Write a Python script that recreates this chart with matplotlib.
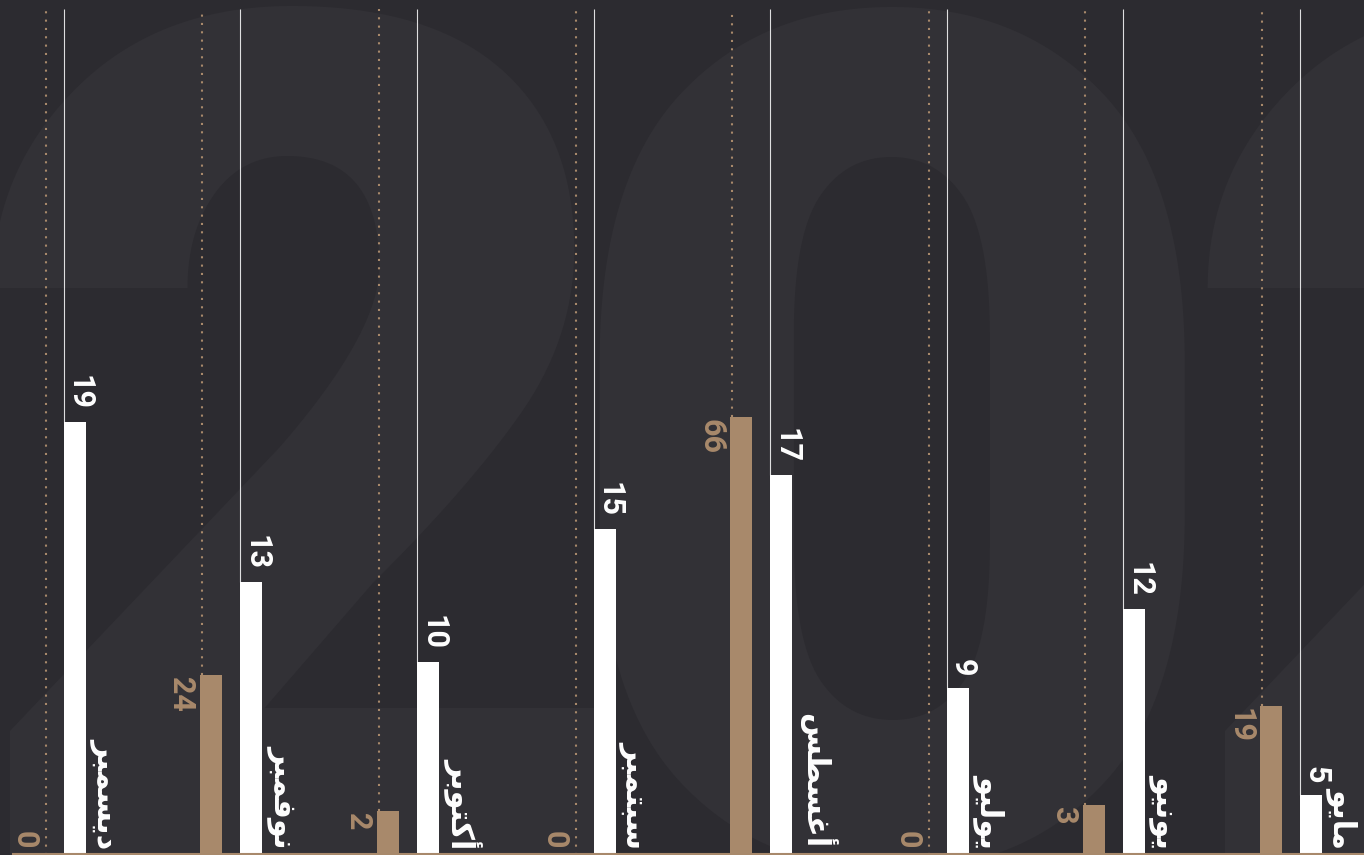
"""Monthly counts, May to December, drawn as vertical bars on a dark card."""

import matplotlib

matplotlib.use("Agg")
import matplotlib.pyplot as plt
import numpy as np

# chronological order; the card reads right to left
months = ["مايو", "يونيو", "يوليو", "أغسطس", "سبتمبر", "أكتوبر", "نوفمبر", "ديسمبر"]
white_vals = [5, 12, 9, 17, 15, 10, 13, 19]
tan_vals = [19, 3, 0, 66, 0, 2, 24, 0]

BG = "#2c2b30"
GHOST = "#323136"
TAN = "#a8896b"
WHITE = "#ffffff"

W, H = 1364, 855
GROUP_PX = 176.6      # distance between months
BAR_PX = 22
TAN_GAP_PX = 40       # white bar centre -> tan bar centre
ZERO_SHIFT_PX = 20    # empty tan slots sit closer to the white bar
FIRST_PX = 1311       # centre of the May white bar

# Arabic presentation forms: letter -> (first code point, joins to the next letter)
FORMS = {
    "ا": (0xFE8D, False), "أ": (0xFE83, False), "د": (0xFEA9, False),
    "ر": (0xFEAD, False), "و": (0xFEED, False),
    "ب": (0xFE8F, True), "ت": (0xFE95, True), "س": (0xFEB1, True),
    "ط": (0xFEC1, True), "غ": (0xFECD, True), "ف": (0xFED1, True),
    "ك": (0xFED9, True), "ل": (0xFEDD, True), "م": (0xFEE1, True),
    "ن": (0xFEE5, True), "ي": (0xFEF1, True),
}


def shape_arabic(word):
    # matplotlib has no shaping, so pick the joined glyphs and reverse them
    out = []
    for k, ch in enumerate(word):
        base, dual = FORMS[ch]
        joined_prev = k > 0 and FORMS[word[k - 1]][1]
        joins_next = dual and k < len(word) - 1
        if joined_prev and joins_next:
            code = base + 3
        elif joined_prev:
            code = base + 1
        elif joins_next:
            code = base + 2
        else:
            code = base
        out.append(chr(code))
    return "".join(reversed(out))


fig = plt.figure(figsize=(W / 100, H / 100), dpi=100, facecolor=BG)

# faint year in the background
for glyph, cx in [("2", 300), ("0", 892), ("2", 1515)]:
    fig.text(cx / W, -3 / H, glyph, ha="center", va="baseline", fontsize=850,
             fontweight="black", family="Roboto", color=GHOST, zorder=-1)

ax = fig.add_axes([0, 0, 1, 1])
ax.set_facecolor("none")
ax2 = ax.twinx()

px = 1 / GROUP_PX
ax.set_xlim(FIRST_PX * px, (FIRST_PX - W) * px)
ax.set_ylim(2.75, 34.84)
ax2.set_ylim(-5.2, 133.8)

for a in (ax, ax2):
    a.set_axis_off()

x = np.arange(len(months), dtype=float)
white = np.array(white_vals, dtype=float)
tan = np.array(tan_vals, dtype=float)
width = BAR_PX * px

w_lo, w_hi = ax.get_ylim()
t_lo, t_hi = ax2.get_ylim()
w_top = w_hi - (w_hi - w_lo) * 9 / H
t_top = t_hi - (t_hi - t_lo) * 9 / H

# white series
ax.bar(x, white, width=width, color=WHITE, zorder=3)
white_left = x + width / 2
ax.vlines(white_left, white, w_top, color=WHITE, lw=0.8, alpha=0.85, zorder=2)

# tan series
tan_x = x + TAN_GAP_PX * px
tan_left = tan_x + width / 2
tan_left = np.where(tan > 0, tan_left, tan_left - ZERO_SHIFT_PX * px)
nz = tan > 0
ax2.bar(tan_x[nz], tan[nz] - t_lo, bottom=t_lo, width=width, color=TAN, zorder=3)
ax2.vlines(tan_left - 2 * px, np.where(nz, tan, t_lo), t_top, color=TAN, lw=1.5,
           linestyles=(0, (1, 3)), zorder=2)

num_font = dict(family="Roboto", fontweight="bold", fontsize=22,
                rotation=-90, rotation_mode="anchor", textcoords="offset pixels")

for i in range(len(months)):
    ax.annotate(str(white_vals[i]), xy=(white_left[i], white[i]), xytext=(7, 12),
                ha="right", va="baseline", color=WHITE, zorder=4, **num_font)
    ax2.annotate(str(tan_vals[i]), xy=(tan_left[i], tan[i]),
                 xytext=(-28, -2 if nz[i] else -8),
                 ha="left", va="baseline", color=TAN, zorder=4, **num_font)
    ax.annotate(shape_arabic(months[i]), xy=(white_left[i], 0),
                xycoords=("data", "axes fraction"), xytext=(35, 7),
                textcoords="offset pixels", rotation=-90, rotation_mode="anchor",
                ha="right", va="baseline", fontsize=22, fontweight="bold",
                family=["DejaVu Sans"], color=WHITE, zorder=4)

# baseline along the bottom edge
ax.axhline(w_lo + (w_hi - w_lo) / H, xmin=13 / W, color=TAN, lw=1.5, zorder=5)

fig.savefig("out.png", dpi=100, facecolor=BG)
